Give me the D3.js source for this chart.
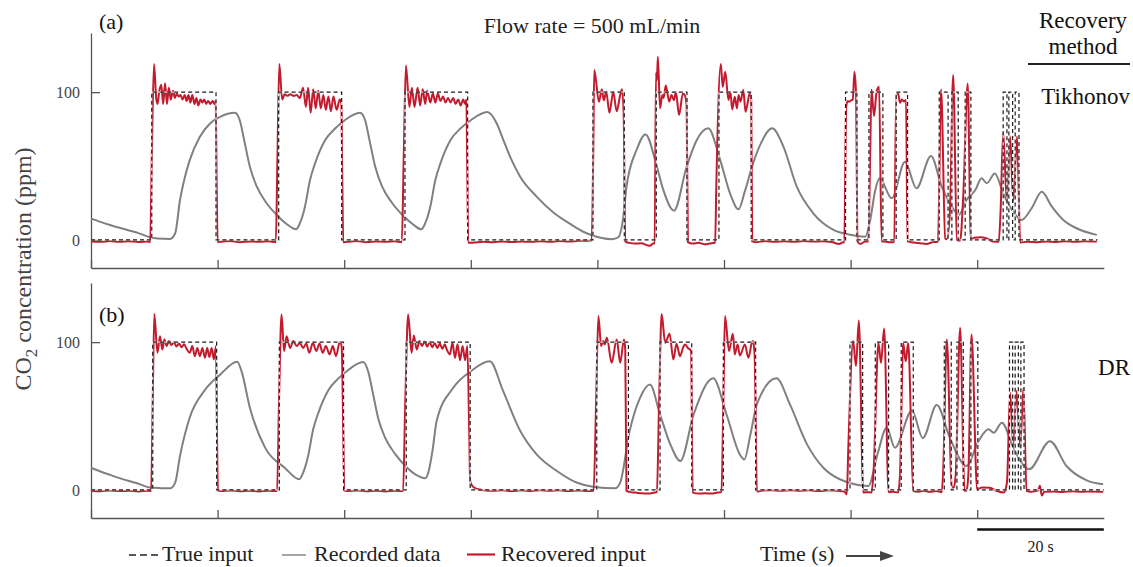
<!DOCTYPE html>
<html>
<head>
<meta charset="utf-8">
<script src="https://cdn.jsdelivr.net/npm/d3@7"></script>
<style>
body { margin: 0; background: #fff; }
svg { display: block; font-family: "Liberation Serif", "Times New Roman", serif; }
</style>
</head>
<body>
<svg id="chart" width="1133" height="567"></svg>
<script>
let width = 1133, height = 567;

let colorRecovered = '#c41a2e';
let colorRecorded = '#808080';
let colorTrue = '#1a1a1a';
let colorAxis = '#555';

let xTicks = [0, 20, 40, 60, 80, 100, 120, 140];
let yTicks = [0, 100];

// true input, panel (a): [time (s), ppm] step points
let trueA = [[0,0],[9.6,100],[19.75,0],[29.65,100],[39.6,0],[49.6,100],[59.5,0],[79.3,100],[84.25,0],
  [89.3,100],[94.15,0],[99.2,100],[104.3,0],[119.2,100],[121.0,0],[122.9,100],[125.1,0],[127.2,100],
  [129.0,0],[134.0,100],[135.4,0],[136.0,100],[137.0,0],[138.1,100],[139.0,0],[144.1,100],[144.7,0],
  [145.0,100],[145.6,0],[146.0,100],[146.6,0],[159,0]];

// true input, panel (b)
let trueB = [[0,0],[9.75,100],[19.85,0],[29.75,100],[39.9,0],[49.8,100],[59.9,0],[79.9,100],[84.9,0],
  [89.9,100],[94.9,0],[99.9,100],[105.0,0],[119.9,100],[121.9,0],[123.9,100],[126.0,0],[128.0,100],
  [129.9,0],[134.8,100],[135.9,0],[136.8,100],[137.8,0],[139.0,100],[140.1,0],[145.1,100],[145.6,0],
  [146.0,100],[146.5,0],[146.9,100],[147.4,0],[160,0]];

// recorded sensor data (a)
let recordedA = [[0,14.6],[1.5,12.2],[3,10.1],[4.5,8.2],[6,6.4],[7.5,4.6],[9.3,1.8],[10.5,1.0],[12.5,0.7],
  [13.3,4.5],[14.06,27],[14.85,42.8],[15.6,54],[17.2,69.8],[18.8,78.8],[20.4,83.3],[22.75,86],[23.5,81],
  [24.3,65.3],[25.1,49.5],[26.2,36],[27.75,24.8],[29.35,16.9],[30.9,10.8],[32.4,7.2],[33.0,11.3],
  [33.8,22.5],[34.6,40.5],[35.4,51.8],[37.0,67.6],[38.6,75.5],[40.1,81],[42.5,86],[43.3,81],[44.1,65.3],
  [44.9,49.5],[46.0,36],[47.6,24.8],[49.2,16.9],[50.8,10.8],[52.2,7.2],[52.8,11.3],[53.6,22.5],
  [54.4,40.5],[55.2,51.8],[56.8,67.6],[58.4,75.5],[60.0,81],[62.6,86.5],[64.1,78.8],[65.15,67.6],
  [66.2,56.3],[67.8,42.8],[70.4,29.3],[73.0,18.7],[75.7,10.8],[78.3,4.5],[80.5,1.5],[82.3,0.5],
  [83.3,1.8],[84.1,15.8],[84.6,36],[86.2,61],[87.6,71.4],[89.4,49.5],[90.4,34],[92.1,19.8],[94.1,49.5],
  [95.7,67.6],[97.5,75.5],[99.4,54],[100.95,31.5],[102.3,20.7],[103.3,33],[104.6,52],[105.9,66],
  [107.6,75.5],[109.4,63],[111.5,36],[114.1,18],[117.3,6.8],[119.9,3.5],[122.3,2.2],[123.1,13.5],
  [123.9,33.8],[124.6,41.7],[126.5,28.2],[128.6,52.9],[130.4,34.9],[132.7,56.8],[134.4,36],[136.0,22.5],
  [137.1,16.9],[138.3,27],[139.7,33.8],[140.7,41.7],[141.5,38.3],[142.8,45],[144.1,31.5],[145.7,19.1],
  [147.0,13.5],[148.6,21.4],[150.2,32.6],[151.8,22.5],[153.6,13.5],[155.7,7.9],[158.9,3.4]];

// recorded sensor data (b)
let recordedB = [[0,15],[1.5,12.5],[3,10.2],[4.5,8],[6,6],[7.5,4.2],[9.3,1.6],[11,1.2],[12.5,1.1],
  [13.3,5],[14.06,23],[15.6,49],[17.9,67],[20.4,78],[23.1,86.7],[23.8,80],[25.1,55.6],[27.5,28.6],
  [30.6,15],[32.9,7.2],[33.5,11.5],[34.3,23],[35.1,41],[35.9,52],[37.5,67.5],[39.1,75.5],[40.6,81],
  [43.0,86.5],[43.8,80],[44.6,64],[45.4,48],[46.5,35],[48.1,24],[49.7,16],[51.3,10.3],[52.8,7.9],
  [53.3,12],[54.0,28],[54.6,46.6],[57.2,69],[59.9,80],[63.0,87],[65.1,67],[67.8,40],[70.4,24],
  [73.6,12.8],[76.7,5],[79.5,2],[82.8,1.1],[83.6,5],[85.1,40],[86.7,62],[88.3,71.4],[89.9,51],
  [91.5,31],[93.1,19.6],[95.2,51],[98.3,75.5],[100.4,51],[102.5,24],[103.2,20.5],[104.2,38],
  [105.2,58],[108.3,75.5],[110.4,58],[113.1,31],[115.7,15],[118.3,7.2],[122.8,2.7],[124.3,25],
  [125.7,42],[127.0,28.6],[129.7,53.8],[131.4,35],[133.6,57.4],[135.7,35],[138.3,16.2],[140.2,33],
  [141.8,41],[142.6,38.7],[143.9,45.5],[145.7,28.6],[148.2,14],[151.5,33],[154.1,16.2],[157.3,6.5],
  [159.9,3.8]];

// recovered input, Tikhonov (a)
let recoveredA = [[0,-1],[1.5,-1.3],[3,-0.8],[4.5,-1.2],[6,-0.9],[7.5,-1.4],[9,-1],[9.35,-1.5],
  [9.6,55],[9.95,119],[10.3,96],[10.5,92],[10.8,101],[11.1,105],[11.4,92],[11.7,106],[12.0,92],
  [12.3,103],[12.6,95],[12.95,101],[13.25,96],[13.55,99],[13.85,97],[14.15,98],[14.45,95],[14.8,98],
  [15.1,94],[15.4,98],[15.7,93],[16.0,98],[16.35,92],[16.65,96],[16.95,91],[17.3,95],[17.6,93],
  [17.9,95],[18.2,92],[18.5,94],[18.85,92],[19.2,94],[19.5,92],[19.7,94],[19.85,40],[20.0,-1.5],
  [20.5,-1.2],[22,-0.8],[23.5,-1.5],[25,-1],[26.5,-1.3],[28,-0.9],[29.2,-1.5],
  [29.45,55],[29.75,119],[30.2,95],[30.6,98.5],[31.0,97.5],[31.5,98.5],[32.0,97.5],[32.5,98],[33.0,96],
  [33.5,103],[33.95,90],[34.3,103],[34.7,86],[35.1,102],[35.5,89],[35.9,101],[36.3,89],[36.7,98],
  [37.1,88],[37.5,97],[37.9,87],[38.3,97],[38.8,88],[39.3,95],[39.55,92],[39.7,40],[39.85,-1.5],
  [40.5,-1.3],[42,-0.8],[43.5,-1.5],[45,-1],[46.5,-1.3],[48,-0.9],[49.1,-1.5],
  [49.4,55],[49.75,118],[50.3,90],[50.7,103],[51.1,90],[51.6,103],[52.0,91],[52.4,102],[52.8,92],
  [53.1,101],[53.6,93],[54.0,99],[54.4,93],[54.8,99],[55.2,94],[55.6,97],[56.0,93],[56.4,96],[56.8,93],
  [57.2,96],[57.6,92],[58.0,95],[58.4,91],[58.8,95],[59.1,92],[59.3,95],[59.45,45],[59.6,-2],
  [60.5,-1.8],[62,-1.2],[63.5,-1.6],[65,-1.0],[66.5,-1.4],[68,-1.1],[69.5,-1.3],[71,-0.9],[72.5,-1.2],
  [74,-0.8],[75.5,-1.1],[77,-0.6],[78.5,-0.5],[79.1,-0.3],
  [79.35,60],[79.5,115],[80.25,93.5],[80.7,102],[81.0,94.5],[81.4,100],[81.9,86],[82.5,100],[83.05,87],
  [83.6,98],[83.9,102],[84.15,85],[84.4,-1],[85,-2],[86,-2.5],[87,-2.3],[87.8,-3.5],[88.3,-4],
  [88.8,-2.5],[89.05,-2.5],
  [89.25,113],[89.4,108],[89.55,124],[89.9,89],[90.25,98],[90.45,96],[90.8,104.5],[91.35,93.5],
  [91.7,98],[92.1,94.5],[92.4,100],[92.9,84.5],[93.5,99],[93.9,97],[94.1,90],[94.3,-1.5],[95,-2.5],
  [96,-2],[97,-3],[98,-2.2],[98.6,-2],
  [98.8,40],[99.5,119],[99.8,103.6],[100.2,113.7],[100.7,94.6],[101.0,100.2],[101.3,88.3],[101.7,96.8],
  [102.05,89],[102.3,98],[102.6,93.5],[103.05,101.4],[103.4,86.7],[104.1,99.6],[104.3,95],[104.45,-1],
  [105,-1.5],[106.5,-0.8],[108,-1.3],[109.5,-0.9],[111,-1.2],[112.5,-0.8],[114,-1.1],[115.5,-0.9],
  [117,-1.4],[118.2,-2.8],[118.8,-1.5],
  [119.0,-1.8],[119.3,90],[119.55,94],[119.8,93.5],[120.1,94.5],[120.35,95],[120.6,113.7],[120.85,100],
  [121.1,-1.1],[121.5,-2.7],[122.3,-1.1],[122.8,-1],[123.1,60],[123.3,101.8],[123.7,83.8],[124.1,100.2],
  [124.5,103.6],[124.9,-1],[125.3,-1],[126,-1.5],[126.9,-1.5],[127.2,99],[127.5,99],[127.8,92.8],
  [128.1,95],[128.4,93.7],[128.75,94.6],[129.0,-1],[130,-1.8],[131,-2.2],[132,-2.7],[133,-1.5],
  [133.8,-1.2],[134.3,101.8],[134.95,1],[135.2,0.5],[135.7,20],[136.2,111.5],[136.8,0],[137.3,-0.5],
  [137.8,30],[138.5,105.9],[139.0,0],[139.5,1.5],[140.5,1.8],[141.5,1],[142.5,-1],[143.4,-1.2],
  [143.7,20],[144.1,73],[144.7,25],[145.2,70],[145.7,26],[146.3,70],[146.8,-1.8],[148,-1.2],
  [149.5,-1.6],[151,-1],[152.5,-1.4],[154,-0.9],[155.5,-1.3],[157,-0.9],[158.9,-1.1]];

// recovered input, DR (b)
let recoveredB = [[0,-0.5],[1.5,-0.9],[3,-0.4],[4.5,-0.8],[6,-0.5],[7.5,-1],[9,-0.6],[9.5,-0.8],
  [9.75,60],[10.0,119],[10.5,92.8],[10.9,104],[11.27,95],[11.6,101.8],[11.96,97.3],[12.3,100.7],
  [12.7,98],[13.1,100],[13.5,97],[13.9,99],[14.3,96.5],[14.7,98.5],[15.1,95.5],[15.6,92.8],[16.0,97.3],
  [16.4,90.5],[16.8,96],[17.2,90.5],[17.6,96],[18.0,89.4],[18.35,96],[18.7,89.9],[19.07,96],[19.4,88.3],
  [19.75,97.3],[19.9,40],[20.05,-0.5],
  [20.5,-0.8],[22,-0.4],[23.5,-0.9],[25,-0.6],[26.5,-1],[28,-0.5],[29.4,-0.8],
  [29.7,60],[30.1,118.7],[30.5,94],[30.9,104],[31.45,96],[31.95,100.7],[32.5,97.3],[33.0,99.5],
  [33.5,96],[34.0,99],[34.5,92.8],[35.05,99.5],[35.6,94],[36.1,99],[36.6,92.8],[37.1,97.3],[37.7,91.7],
  [38.2,97.3],[38.7,90.5],[39.3,100],[39.6,97],[39.85,40],[40.0,-0.5],
  [40.5,-0.8],[42,-0.4],[43.5,-0.9],[45,-0.6],[46.5,-1],[48,-0.5],[49.3,-0.8],
  [49.65,60],[50.1,118.7],[50.65,92.8],[51.0,104.5],[51.45,95],[51.9,100.7],[52.3,97.3],[52.7,100.5],
  [53.1,97],[53.5,100],[53.9,96.5],[54.3,99.5],[54.7,96],[55.1,99],[55.5,95.5],[55.9,98.5],[56.2,95],
  [56.7,91.7],[57.1,99.6],[57.5,89.4],[57.9,98.5],[58.3,87.7],[58.7,97.3],[59.1,87.7],[59.45,97.3],
  [59.75,40],[59.9,6],[60.2,2.9],[61,0.6],[62,-0.2],[63.5,-0.6],[65,-0.2],[66.5,-0.8],[68,-0.3],
  [69.5,-0.7],[71,-0.2],[72.5,-0.6],[74,-0.3],[75.5,-0.8],[77,-0.4],[78.5,-0.7],[79.4,-0.5],
  [79.8,60],[80.15,117.6],[80.6,97.3],[80.9,100.7],[81.15,98.4],[81.5,103],[82.25,86],[83.05,101.8],
  [83.6,86],[84.2,101.8],[84.4,95],[84.6,-0.7],[85.2,-1.5],[86,-1.8],[87,-2.3],[88,-2.5],[89,-1.8],
  [89.4,-1.5],
  [89.75,60],[90.15,119],[90.7,99.5],[91.4,105.6],[92.0,88.3],[92.5,98.9],[93.05,90.5],[93.6,97],
  [93.85,98.4],[94.3,96],[94.8,94],[95.05,-1.8],[96,-2.5],[97,-2.2],[98,-2.5],[99,-1.8],[99.6,-1.5],
  [99.9,60],[100.15,117.6],[100.8,94],[101.4,105.6],[101.7,91.7],[102.15,98.4],[102.5,91],[103.3,98.4],
  [103.85,89.4],[104.4,99.5],[104.6,100.7],[104.85,90],[105.2,-1.1],[106,-0.4],[107.5,-0.2],[109,-0.6],
  [110.5,-0.2],[112,-0.5],[113.5,-0.3],[115,-0.7],[116.5,-0.3],[118,-0.6],[119.0,-1],[119.4,-3],
  [119.65,30],[120.4,100.7],[120.85,83.8],[121.3,114.6],[122.0,-1.8],[122.6,-1.5],[123.3,-1.8],
  [123.6,10],[124.4,99.5],[124.8,86],[125.3,109.2],[126.0,-1.5],[126.6,-1.2],[127.5,-1.8],[127.8,10],
  [128.3,99.5],[128.7,87],[129.1,99.5],[129.9,-0.7],[130.7,-1.2],[131.5,-0.6],[132.5,-1.3],[133.5,-0.8],
  [134.4,-1.5],[134.6,10],[135.2,101.8],[136.0,1.6],[136.3,1.6],[136.6,10],[137.3,109.7],[138.0,-0.5],
  [138.3,-0.5],[138.6,10],[139.1,105.2],[140.0,0],[140.7,1.6],[142,1.5],[143,-0.5],[144.2,-1.8],
  [144.7,5],[145.2,65.8],[145.7,29.7],[146.2,66.9],[146.8,28.6],[147.3,69],[147.8,-0.7],[148.5,-1.2],
  [149.6,-0.5],[149.9,2.9],[150.2,-3.8],[150.6,-1.2],[152,-1],[153.5,-1.4],[155,-0.9],[156.5,-1.3],
  [158,-1],[159.9,-1.2]];

let panels = [
  {label: '(a)', method: 'Tikhonov', top: 33, bottom: 268, labelY: 29, methodY: 104,
    truth: trueA, recorded: recordedA, recovered: recoveredA},
  {label: '(b)', method: 'DR', top: 283, bottom: 518, labelY: 322, methodY: 375,
    truth: trueB, recorded: recordedB, recovered: recoveredB}
];

let svg = d3.select('#chart');
let x = d3.scaleLinear().domain([0, 160]).range([91, 1103.8]);

svg.append('rect').attr('width', width).attr('height', height).attr('fill', '#fff');

function styleAxis(g) {
  g.attr('font-family', null).attr('font-size', null);
  g.selectAll('.domain, .tick line').attr('stroke', colorAxis).attr('stroke-width', 1.3);
  g.selectAll('.tick text').attr('fill', '#444').attr('font-size', 16);
}

function drawPanel(p) {
  let y = d3.scaleLinear().domain([-19, 140]).range([p.bottom, p.top]);
  let g = svg.append('g');

  g.append('g')
    .attr('transform', `translate(0,${p.bottom})`)
    .call(d3.axisBottom(x).tickValues(xTicks).tickSizeInner(-8).tickSizeOuter(0).tickFormat(''))
    .call(styleAxis);

  g.append('g')
    .attr('transform', `translate(${x(0)},0)`)
    .call(d3.axisLeft(y).tickValues(yTicks).tickSizeInner(-9).tickSizeOuter(0).tickPadding(11))
    .call(styleAxis);

  let smooth = d3.line().x(d => x(d[0])).y(d => y(d[1])).curve(d3.curveMonotoneX);
  let step = d3.line().x(d => x(d[0])).y(d => y(d[1])).curve(d3.curveStepAfter);

  g.append('path').datum(p.recorded)
    .attr('d', smooth).attr('fill', 'none')
    .attr('stroke', colorRecorded).attr('stroke-width', 2);

  g.append('path').datum(p.recovered)
    .attr('d', smooth).attr('fill', 'none')
    .attr('stroke', colorRecovered).attr('stroke-width', 2)
    .attr('stroke-linejoin', 'round');

  // true input: white underlay then black dashes
  g.append('path').datum(p.truth)
    .attr('d', step).attr('fill', 'none')
    .attr('stroke', '#fff').attr('stroke-width', 1);
  g.append('path').datum(p.truth)
    .attr('d', step).attr('fill', 'none')
    .attr('stroke', colorTrue).attr('stroke-width', 1.2)
    .attr('stroke-dasharray', '4,3');

  g.append('text').attr('x', 99).attr('y', p.labelY)
    .attr('font-size', 22).attr('fill', '#111').text(p.label);

  g.append('text').attr('x', 1130).attr('y', p.methodY)
    .attr('text-anchor', 'end').attr('font-size', 23).attr('fill', '#111').text(p.method);
}

panels.forEach(drawPanel);

// titles and annotations
svg.append('text').attr('x', 592).attr('y', 33).attr('text-anchor', 'middle')
  .attr('font-size', 22).attr('fill', '#222').text('Flow rate = 500 mL/min');

svg.append('text').attr('x', 1083).attr('y', 28).attr('text-anchor', 'middle')
  .attr('font-size', 23).attr('fill', '#111').text('Recovery');
svg.append('text').attr('x', 1083).attr('y', 54).attr('text-anchor', 'middle')
  .attr('font-size', 23).attr('fill', '#111').text('method');
svg.append('line').attr('x1', 1028).attr('x2', 1130).attr('y1', 64).attr('y2', 64)
  .attr('stroke', '#222').attr('stroke-width', 2);

let ylab = svg.append('text')
  .attr('transform', 'translate(31,269) rotate(-90)')
  .attr('text-anchor', 'middle').attr('font-size', 24).attr('fill', '#444');
ylab.append('tspan').text('CO');
ylab.append('tspan').attr('font-size', 17).attr('dy', 6).text('2');
ylab.append('tspan').attr('dy', -6).text(' concentration (ppm)');

// scale bar
svg.append('line').attr('x1', x(140)).attr('x2', x(160)).attr('y1', 529.5).attr('y2', 529.5)
  .attr('stroke', '#111').attr('stroke-width', 2.5);
svg.append('text').attr('x', (x(140) + x(160)) / 2).attr('y', 552).attr('text-anchor', 'middle')
  .attr('font-size', 16).attr('fill', '#222').text('20 s');

// time label and arrow
svg.append('text').attr('x', 760).attr('y', 561).attr('font-size', 22).attr('fill', '#222').text('Time (s)');
svg.append('line').attr('x1', 846).attr('x2', 884).attr('y1', 556).attr('y2', 556)
  .attr('stroke', '#444').attr('stroke-width', 1.8);
svg.append('path').attr('d', 'M880,551 L894,556 L880,561 Z').attr('fill', '#444');

// legend
let legend = svg.append('g');
legend.append('line').attr('x1', 129).attr('x2', 160).attr('y1', 555).attr('y2', 555)
  .attr('stroke', '#222').attr('stroke-width', 1.4).attr('stroke-dasharray', '7,4');
legend.append('text').attr('x', 162).attr('y', 561).attr('font-size', 22).attr('fill', '#222').text('True input');
legend.append('line').attr('x1', 282).attr('x2', 306).attr('y1', 555).attr('y2', 555)
  .attr('stroke', colorRecorded).attr('stroke-width', 1.4);
legend.append('text').attr('x', 314).attr('y', 561).attr('font-size', 22).attr('fill', '#222').text('Recorded data');
legend.append('line').attr('x1', 467).attr('x2', 495).attr('y1', 554.5).attr('y2', 554.5)
  .attr('stroke', colorRecovered).attr('stroke-width', 2.2);
legend.append('text').attr('x', 501).attr('y', 561).attr('font-size', 22).attr('fill', '#222').text('Recovered input');
</script>
</body>
</html>
